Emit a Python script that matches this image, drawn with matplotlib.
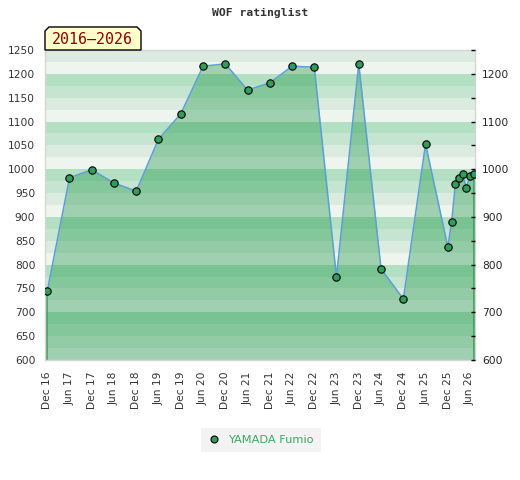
import matplotlib
matplotlib.use("Agg")
import matplotlib.pyplot as plt
import matplotlib.dates as mdates
from matplotlib.lines import Line2D
from matplotlib.patches import Polygon
from matplotlib.ticker import MultipleLocator
import datetime as dt

# ---- data ----
dates = ["2016-12-01", "2017-06-01", "2017-12-01", "2018-06-01", "2018-12-01",
         "2019-06-01", "2019-12-01", "2020-06-01", "2020-12-01", "2021-06-01",
         "2021-12-01", "2022-06-01", "2022-12-01", "2023-06-01", "2023-12-01",
         "2024-06-01", "2024-12-01", "2025-06-01", "2025-12-01",
         "2026-01-01", "2026-02-01", "2026-03-01", "2026-04-01", "2026-05-01",
         "2026-06-01", "2026-07-01"]
ratings = [745, 982, 999, 971, 954, 1063, 1116, 1216, 1221, 1166,
           1181, 1216, 1214, 774, 1221, 791, 728, 1053, 837,
           889, 969, 982, 990, 961, 986, 990]
player = "YAMADA Fumio"
title = "WOF ratinglist"
period_label = "2016\u20132026"
tick_dates = ["2016-12-01", "2017-06-01", "2017-12-01", "2018-06-01", "2018-12-01",
              "2019-06-01", "2019-12-01", "2020-06-01", "2020-12-01", "2021-06-01",
              "2021-12-01", "2022-06-01", "2022-12-01", "2023-06-01", "2023-12-01",
              "2024-06-01", "2024-12-01", "2025-06-01", "2025-12-01", "2026-06-01"]

x = [dt.datetime.strptime(d, "%Y-%m-%d") for d in dates]
xt = [dt.datetime.strptime(d, "%Y-%m-%d") for d in tick_dates]

W, H = 520, 480
fig = plt.figure(figsize=(W / 100, H / 100), dpi=100)
fig.patch.set_facecolor("white")
L, R, T, B = 45, 475, 50, 360
ax = fig.add_axes([L / W, 1 - B / H, (R - L) / W, (B - T) / H])

ymin, ymax = 600, 1250
band_colors = {0: "#eef5ef", 1: "#dcebe0", 2: "#c6e5d0", 3: "#b3dfc2"}
v = ymin
while v < ymax:
    idx = (v % 100) // 25
    ax.axhspan(v, v + 25, color=band_colors[idx], lw=0, zorder=0)
    v += 25

ax.fill_between(x, ratings, ymin, color="#008a30", alpha=0.33, lw=0, zorder=1)
ax.plot([x[0], x[0]], [ymin, ratings[0]], color="#3a9a5a", lw=1.2, zorder=2)
ax.plot([x[-1], x[-1]], [ymin, ratings[-1]], color="#3a9a5a", lw=1.2, zorder=2)
ax.plot(x, ratings, color="#5b9fd6", lw=1.1, zorder=3)
ax.plot(x, ratings, ls="none", marker="o", ms=5.3, mfc="#2e9e5a", mec="black",
        mew=0.8, zorder=4)

ax.set_xlim(dt.datetime(2016, 11, 12), dt.datetime(2026, 7, 12))
ax.set_ylim(ymin, ymax)
ax.set_xticks(xt)
ax.xaxis.set_major_formatter(mdates.DateFormatter("%b %y"))
ax.yaxis.set_major_locator(MultipleLocator(50))
ax.tick_params(axis="x", length=0, pad=8.5, labelsize=7.7, labelrotation=90,
               labelcolor="#333333")
ax.tick_params(axis="y", length=0, pad=7, labelsize=7.7, labelcolor="#333333")
for s in ax.spines.values():
    s.set_color("#d5d5d5")
    s.set_linewidth(1)

ax2 = ax.twinx()
ax2.set_ylim(ymin, ymax)
ax2.yaxis.set_major_locator(MultipleLocator(100))
ax2.yaxis.set_minor_locator(MultipleLocator(50))
ax2.tick_params(axis="y", which="both", direction="in", length=3, width=1,
                color="black", pad=5, labelsize=7.7, labelcolor="#222222")
for s in ax2.spines.values():
    s.set_visible(False)
ax2.set_yticks([600, 700, 800, 900, 1000, 1100, 1200])
ax2.set_ylim(ymin, ymax)

fig.text(260 / W, 1 - 13 / H, title, ha="center", va="center",
         family="DejaVu Sans Mono", weight="bold", fontsize=8.2, color="#333333")

def P(px, py):
    return (px / W, 1 - py / H)

poly = Polygon([P(45, 50), P(45, 31), P(49, 27), P(137, 27), P(141, 31), P(141, 50)],
               closed=True, transform=fig.transFigure, facecolor="#ffffcc",
               edgecolor="black", lw=1, zorder=10)
fig.patches.append(poly)
fig.text(92 / W, 1 - 39 / H, period_label, ha="center", va="center",
         family="DejaVu Sans Mono", fontsize=10.7, color="#8b0000", zorder=11)

handle = Line2D([], [], ls="none", marker="o", ms=5, mfc="#2e9e5a", mec="black", mew=0.8)
leg = fig.legend([handle], [player], loc="center", bbox_to_anchor=(261 / W, 1 - 440 / H),
                 frameon=True, fancybox=False, facecolor="#f0f0f0", edgecolor="#f0f0f0",
                 fontsize=8.2, handlelength=1.0, handletextpad=0.75, borderpad=0.6,
                 borderaxespad=0)
leg.get_frame().set_linewidth(0)
for t in leg.get_texts():
    t.set_color("#3aa860")

fig.savefig("out.png", dpi=100)
